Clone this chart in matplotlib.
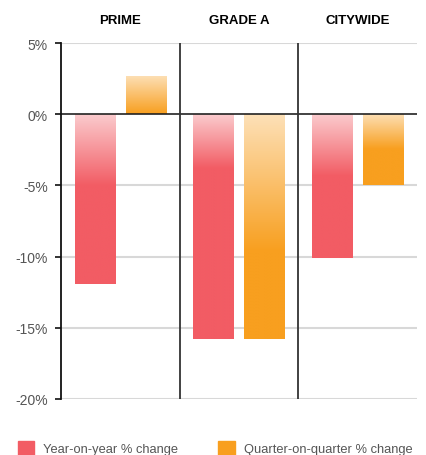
import numpy as np
import matplotlib
matplotlib.use("Agg")
import matplotlib.pyplot as plt
from matplotlib.patches import Patch
from matplotlib.colors import to_rgb
from matplotlib.ticker import FuncFormatter

plt.rcParams['font.family'] = ['Liberation Sans', 'DejaVu Sans']

## data (% change)
groups = ["PRIME", "GRADE A", "CITYWIDE"]
yoy = [-11.9, -15.8, -10.1]
qoq = [2.7, -15.8, -5.0]
series_names = ["Year-on-year % change", "Quarter-on-quarter % change"]
# how far down from the bar's top the fade runs (fraction of bar length)
yoy_fade = [0.42, 0.24, 0.43]
qoq_fade = [1.0, 0.61, 0.5]

red = "#f25c64"
orange = "#f89f1f"

fig = plt.figure(figsize=(4.27, 4.56), dpi=100)
ax = fig.add_axes([61/427, 1 - 400/456, 356/427, 356/456])

x = np.arange(len(groups))
off = 0.215
w = 0.34

def fade_bar(rect, color, frac):
    # paint the whole bar as an image: white-to-colour ramp from the top, then solid
    x0 = rect.get_x()
    x1 = x0 + rect.get_width()
    y0 = rect.get_y()
    h = rect.get_height()
    top = max(y0, y0 + h)
    bot = min(y0, y0 + h)
    n = 300
    t = np.clip(np.linspace(0, 1, n) / frac, 0, 1)
    a = 0.32 + 0.68 * t
    rgb = np.array(to_rgb(color))
    img = (1 - a[:, None]) + a[:, None] * rgb[None, :]
    img = img[:, None, :]
    im = ax.imshow(img, extent=[x0, x1, bot, top], origin='upper',
                   aspect='auto', zorder=3, interpolation='bilinear')
    im.set_clip_path(rect)

bars1 = ax.bar(x - off, yoy, w, color=red, zorder=2)
bars2 = ax.bar(x + off, qoq, w, color=orange, zorder=2)
for r, f in zip(bars1, yoy_fade):
    fade_bar(r, red, f)
for r, f in zip(bars2, qoq_fade):
    fade_bar(r, orange, f)

ax.set_xlim(-0.5, len(groups) - 0.5)
ax.set_ylim(-20, 5)
ax.set_yticks([5, 0, -5, -10, -15, -20])
ax.yaxis.set_major_formatter(FuncFormatter(lambda v, p: f"{v:.0f}%"))

for yv in [5, -5, -10, -15, -20]:
    ax.axhline(yv, color="#d8d8d8", lw=1.5, zorder=1)
ax.axhline(0, color="#222222", lw=1.2, zorder=4)
for xv in x[:-1] + 0.5:
    ax.axvline(xv, color="#333333", lw=1.3, zorder=4)

for s in ["top", "right", "bottom"]:
    ax.spines[s].set_visible(False)
ax.spines["left"].set_color("#111111")
ax.spines["left"].set_linewidth(1.3)
ax.spines["left"].set_zorder(5)
ax.set_xticks([])
ax.tick_params(axis='y', length=4.5, width=1.2, color="#111111",
               labelsize=10, labelcolor="#555555", pad=5)

for xi, g in zip(x, groups):
    ax.text(xi, 1.066, g, transform=ax.get_xaxis_transform(),
            ha='center', va='center', fontsize=9.5, fontweight='bold')

handles = [Patch(color=red), Patch(color=orange)]
fig.legend(handles, series_names, loc='lower left',
           bbox_to_anchor=(0.014, -0.026), ncol=2, frameon=False,
           fontsize=9.3, labelcolor="#555555", handlelength=1.25,
           handleheight=1.25, handletextpad=0.75, columnspacing=3.1)

fig.savefig("out.png", dpi=100)
